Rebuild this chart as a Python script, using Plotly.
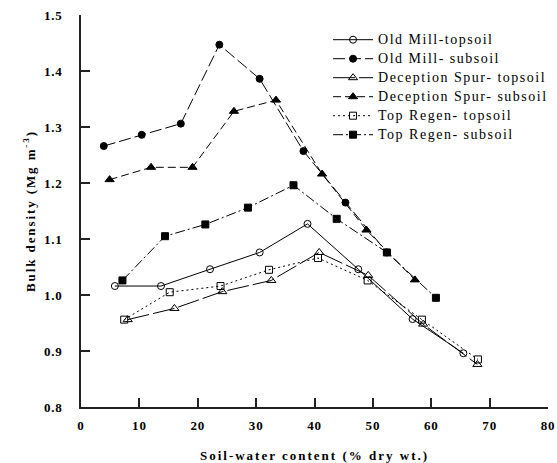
import plotly.graph_objects as go

# Soil-water content (% dry wt.) and bulk density (Mg m-3) per site / horizon
om_top_x = [5.8, 13.7, 22.1, 30.6, 38.8, 47.5, 56.8, 65.5]
om_top_y = [1.016, 1.016, 1.046, 1.076, 1.127, 1.046, 0.957, 0.896]

om_sub_x = [3.9, 10.4, 17.1, 23.7, 30.6, 38.1, 45.3, 52.4]
om_sub_y = [1.266, 1.286, 1.306, 1.447, 1.386, 1.257, 1.165, 1.076]

ds_top_x = [8.0, 16.0, 24.2, 32.6, 40.8, 49.2, 58.6, 67.9]
ds_top_y = [0.956, 0.976, 1.006, 1.026, 1.076, 1.035, 0.948, 0.876]

ds_sub_x = [4.9, 12.0, 19.1, 26.2, 33.4, 41.3, 48.9, 57.2]
ds_sub_y = [1.206, 1.228, 1.228, 1.328, 1.348, 1.216, 1.116, 1.027]

tr_top_x = [7.4, 15.2, 23.9, 32.2, 40.6, 49.1, 58.4, 68.0]
tr_top_y = [0.956, 1.005, 1.016, 1.045, 1.066, 1.026, 0.956, 0.885]

tr_sub_x = [7.1, 14.4, 21.3, 28.6, 36.4, 43.8, 52.4, 60.8]
tr_sub_y = [1.026, 1.105, 1.126, 1.156, 1.196, 1.136, 1.076, 0.995]

x_ticks = [0, 10, 20, 30, 40, 50, 60, 70, 80]
y_ticks = [0.8, 0.9, 1.0, 1.1, 1.2, 1.3, 1.4, 1.5]

SERIF = "Liberation Serif, Times New Roman, serif"

series = [
    ("Old Mill-topsoil", om_top_x, om_top_y, "circle-open", "solid", 7),
    ("Old Mill- subsoil", om_sub_x, om_sub_y, "circle", "12px,4px", 7),
    ("Deception Spur- topsoil", ds_top_x, ds_top_y, "triangle-up-open", "22px,4px", 8),
    ("Deception Spur- subsoil", ds_sub_x, ds_sub_y, "triangle-up", "8px,4px", 8),
    ("Top Regen- topsoil", tr_top_x, tr_top_y, "square-open", "2px,3px", 7),
    ("Top Regen- subsoil", tr_sub_x, tr_sub_y, "square", "10px,3px,2px,3px", 7),
]

fig = go.Figure()
for name, xs, ys, sym, dash, size in series:
    fig.add_trace(go.Scatter(
        x=xs, y=ys, name=name, mode="lines+markers",
        line=dict(color="black", width=1, dash=dash),
        marker=dict(symbol=sym, size=size, color="black",
                    line=dict(color="black", width=1)),
    ))

axis_common = dict(
    showgrid=False, zeroline=False, showline=True, automargin=False,
    linecolor="#222", linewidth=1.5,
    ticks="inside", ticklen=9, tickwidth=1.5, tickcolor="#222",
    tickfont=dict(family=SERIF, size=13, color="black", weight="bold"),
)

fig.update_xaxes(
    range=[0, 80], tickvals=x_ticks, ticktext=[str(v) for v in x_ticks],
    ticklabelstandoff=6,
    title=dict(text="Soil-water content (% dry wt.)",
               font=dict(family=SERIF, size=13, color="black", weight="bold"),
               standoff=22),
    **axis_common,
)
fig.update_yaxes(
    range=[0.8, 1.5], tickvals=y_ticks, ticktext=[f"{v:.1f}" for v in y_ticks],
    ticklabelstandoff=14,
    title=dict(text="Bulk density (Mg m<sup>-3</sup>)",
               font=dict(family=SERIF, size=13, color="black", weight="bold"),
               standoff=8),
    **axis_common,
)

fig.update_layout(
    width=557, height=463,
    margin=dict(l=81, r=9, t=15, b=56),
    paper_bgcolor="white", plot_bgcolor="white",
    showlegend=True,
    legend=dict(x=0.529, y=0.974, xanchor="left", yanchor="top",
                bgcolor="rgba(0,0,0,0)", borderwidth=0, itemwidth=40,
                font=dict(family=SERIF, size=12, color="black"),
                tracegroupgap=0),
)

# Typographic spacing for the serif labels (letter-spacing is a CSS-only property)
spacing_js = """
var gd = document.getElementById('{plot_id}');
function spaceText() {
  gd.querySelectorAll('.legend [clip-path]').forEach(function (g) {
    g.removeAttribute('clip-path');
  });
  gd.querySelectorAll('.legendtext').forEach(function (t) {
    t.style.fontSize = '14px';
    t.style.letterSpacing = '1.5px';
  });
  gd.querySelectorAll('.g-xtitle text').forEach(function (t) {
    t.style.letterSpacing = '2px';
  });
  gd.querySelectorAll('.g-ytitle text').forEach(function (t) {
    t.style.letterSpacing = '1.9px';
  });
  gd.querySelectorAll('.xtick text, .ytick text').forEach(function (t) {
    t.style.letterSpacing = '0.8px';
  });
}
spaceText();
gd.on('plotly_afterplot', spaceText);
"""

fig.write_html("out.html", post_script=spacing_js)
